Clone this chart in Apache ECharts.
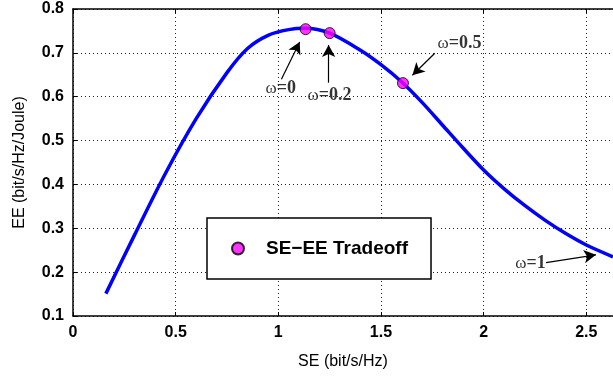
<!DOCTYPE html>
<html>
<head>
<meta charset="utf-8">
<script src="https://cdn.jsdelivr.net/npm/echarts@6/dist/echarts.min.js"></script>
<style>
  html, body { margin: 0; padding: 0; background: #fff; }
  #chart { width: 613px; height: 376px; }
</style>
</head>
<body>
<div id="chart"></div>
<script>
// tradeoff curve
const seValues = [0.16, 0.30, 0.45, 0.60, 0.75, 0.85, 0.95, 1.05, 1.13, 1.25, 1.40, 1.50, 1.60, 1.70, 1.80, 1.90, 2.00, 2.10, 2.20, 2.30, 2.40, 2.50, 2.63]
const eeValues = [0.151, 0.285, 0.425, 0.55, 0.655, 0.71, 0.74, 0.753, 0.756, 0.745, 0.706, 0.673, 0.634, 0.587, 0.535, 0.483, 0.433, 0.39, 0.352, 0.318, 0.288, 0.262, 0.235]

// omega points on the curve
const omegaSE = [1.133, 1.25, 1.607]
const omegaEE = [0.754, 0.745, 0.631]

// annotation labels: text position and arrow (from -> to), in data units
const annotLabels = ['0', '0.2', '0.5', '1']
const annotText = [[1.012, 0.618], [1.249, 0.602], [1.882, 0.722], [2.228, 0.22]]
const annotArrowFrom = [[1.015, 0.64], [1.245, 0.632], [1.762, 0.699], [2.304, 0.2215]]
const annotArrowTo = [[1.104, 0.725], [1.245, 0.718], [1.653, 0.649], [2.547, 0.2395]]

const xTicks = { min: 0, max: 2.63, interval: 0.5 }
const yTicks = { min: 0.1, max: 0.8, interval: 0.1 }

const chart = echarts.init(document.getElementById('chart'))

const curve = seValues.map((x, i) => [x, eeValues[i]])
const points = omegaSE.map((x, i) => [x, omegaEE[i]])
const arrows = annotArrowFrom.map((p, i) => [{ coord: p }, { coord: annotArrowTo[i] }])
const texts = annotText.map((p, i) => [p[0], p[1], annotLabels[i]])

const tickFont = { fontFamily: 'Liberation Sans', fontWeight: 'bold', fontSize: 16, color: '#000' }

const option = {
  animation: false,
  backgroundColor: '#fff',
  grid: { left: 73, top: 9, right: 0, bottom: 60 },
  legend: {
    data: ['SE−EE Tradeoff'],
    left: 207,
    top: 218,
    orient: 'vertical',
    backgroundColor: '#fff',
    borderColor: '#000',
    borderWidth: 1.5,
    borderRadius: 0,
    padding: [21, 23, 21, 24],
    itemWidth: 46,
    itemHeight: 12,
    textStyle: { fontFamily: 'Liberation Sans', fontWeight: 'bold', fontSize: 19, color: '#000' }
  },
  xAxis: [{
    type: 'value',
    min: xTicks.min,
    max: xTicks.max,
    interval: xTicks.interval,
    name: 'SE (bit/s/Hz)',
    nameLocation: 'middle',
    nameGap: 38,
    nameTextStyle: { fontFamily: 'Liberation Sans', fontSize: 16, color: '#000' },
    axisLine: { show: true, lineStyle: { color: '#000', width: 1.5 } },
    axisTick: { show: true, inside: true, length: 4, lineStyle: { color: '#000' } },
    axisLabel: Object.assign({ margin: 9, showMaxLabel: false }, tickFont),
    splitLine: { show: true, lineStyle: { color: '#222', width: 1, type: [1, 3] } }
  }, {
    type: 'value',
    position: 'top',
    min: xTicks.min,
    max: xTicks.max,
    interval: xTicks.interval,
    axisLine: { show: true, onZero: false, lineStyle: { color: '#000', width: 1.5 } },
    axisTick: { show: true, inside: true, length: 4, lineStyle: { color: '#000' } },
    axisLabel: { show: false },
    splitLine: { show: false }
  }],
  yAxis: {
    type: 'value',
    min: yTicks.min,
    max: yTicks.max,
    interval: yTicks.interval,
    name: 'EE (bit/s/Hz/Joule)',
    nameLocation: 'middle',
    nameGap: 45,
    nameTextStyle: { fontFamily: 'Liberation Sans', fontSize: 16, color: '#000' },
    axisLine: { show: true, lineStyle: { color: '#000', width: 1.5 } },
    axisTick: { show: true, inside: true, length: 4, lineStyle: { color: '#000' } },
    axisLabel: Object.assign({ margin: 9 }, tickFont),
    splitLine: { show: true, lineStyle: { color: '#222', width: 1, type: [1, 3] } }
  },
  series: [
    {
      name: 'curve',
      type: 'line',
      data: curve,
      smooth: 0.3,
      symbol: 'none',
      lineStyle: { color: '#0000ff', width: 3.5 },
      markLine: {
        silent: true,
        symbol: ['none', 'arrow'],
        symbolSize: [10, 12],
        label: { show: false },
        lineStyle: { color: '#000', width: 1.2, type: 'solid' },
        data: arrows
      },
      z: 2
    },
    {
      name: 'SE−EE Tradeoff',
      type: 'scatter',
      data: points,
      symbol: 'circle',
      symbolSize: 11,
      itemStyle: { color: '#ff00ff', borderColor: '#000', borderWidth: 1 },
      z: 3
    },
    {
      name: 'labels',
      type: 'scatter',
      data: texts,
      symbolSize: 0,
      silent: true,
      label: {
        show: true,
        position: 'inside',
        formatter: p => '{w|ω}{b|=' + p.data[2] + '}',
        rich: {
          w: { fontFamily: 'Liberation Serif', fontSize: 17, color: '#000' },
          b: { fontFamily: 'Liberation Serif', fontSize: 18, fontWeight: 'bold', color: '#000' }
        }
      },
      z: 4
    }
  ]
}

chart.setOption(option)
window.onresize = function() {
  chart.resize()
}
</script>
</body>
</html>
